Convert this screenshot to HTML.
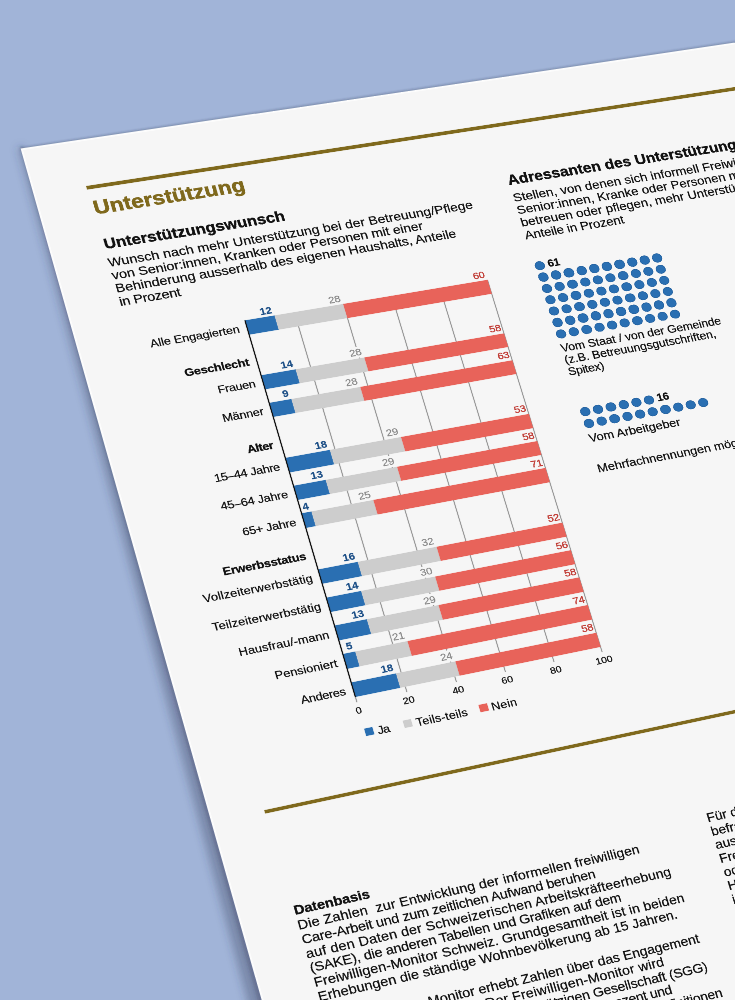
<!DOCTYPE html>
<html><head><meta charset="utf-8"><style>
html,body{margin:0;padding:0;width:735px;height:1000px;overflow:hidden;background:#a1b4d8;}
#page{position:absolute;left:0;top:0;width:1800px;height:2600px;background:#f6f6f6;transform-origin:0 0 0;transform:matrix3d(0.50915953,-0.0685344667,0,4.60428178e-05,0.119779161,0.421283696,0,-2.51008118e-05,0,0,1,0,21.2406089,148.904145,0,1);font-family:"Liberation Sans",sans-serif;box-shadow:inset 2.4px 2.4px 0 #fff;}
.t{position:absolute;white-space:nowrap;}
.r{position:absolute;}
.d{position:absolute;border-radius:50%;width:21.20px;height:21.20px;background:#2a6fb2;box-shadow:inset 0 0 0 1.20px #235f9c;}
</style></head><body>
<svg width="735" height="1000" style="position:absolute;left:0;top:0">
<defs><filter id="b1" x="-50%" y="-50%" width="200%" height="200%"><feGaussianBlur stdDeviation="4.5"/></filter>
<filter id="b2" x="-50%" y="-50%" width="200%" height="200%"><feGaussianBlur stdDeviation="1.6"/></filter>
<filter id="b3" x="-50%" y="-50%" width="200%" height="200%"><feGaussianBlur stdDeviation="0.8"/></filter></defs>
<polygon points="22.6,146.4 316.8,1185.8 298.6,1191.0 17.8,147.8" fill="rgba(50,60,85,0.36)" filter="url(#b1)"/>
<polygon points="22.6,146.4 316.8,1185.8 310.1,1187.7 19.7,147.3" fill="rgba(40,50,75,0.30)" filter="url(#b2)"/>
<polygon points="21.4,149.9 952.0,11.8 951.7,9.4 21.0,147.4" fill="rgba(40,50,75,0.35)" filter="url(#b3)"/>
</svg>
<div id="page">
<div class="r" style="left:102.80px;top:106.40px;width:1800.00px;height:7.60px;background:#7f691d;box-shadow:0 0 1.40px #7f691d;"></div>
<div class="r" style="left:102.00px;top:1521.60px;width:1800.00px;height:7.60px;background:#7f691d;box-shadow:0 0 1.40px #7f691d;"></div>
<div class="t" style="top:130.77px;font-size:44.40px;line-height:53.28px;color:#7f691d;font-weight:700;letter-spacing:0.238px;left:105.00px;-webkit-text-stroke:1.20px #7f691d;">Unterstützung</div>
<div class="t" style="top:222.96px;font-size:33.00px;line-height:39.60px;color:#111;font-weight:700;letter-spacing:-0.062px;left:105.00px;-webkit-text-stroke:0.80px #111;">Unterstützungswunsch</div>
<div class="t" style="top:268.69px;font-size:28.00px;line-height:33.60px;color:#111;letter-spacing:0.095px;left:103.00px;-webkit-text-stroke:0.50px #111;">Wunsch nach mehr Unterstützung bei der Betreuung/Pflege</div>
<div class="t" style="top:299.03px;font-size:28.00px;line-height:33.60px;color:#111;letter-spacing:-0.086px;left:103.00px;-webkit-text-stroke:0.50px #111;">von Senior:innen, Kranken oder Personen mit einer</div>
<div class="t" style="top:329.37px;font-size:28.00px;line-height:33.60px;color:#111;letter-spacing:-0.027px;left:103.00px;-webkit-text-stroke:0.50px #111;">Behinderung ausserhalb des eigenen Haushalts, Anteile</div>
<div class="t" style="top:359.71px;font-size:28.00px;line-height:33.60px;color:#111;letter-spacing:-0.507px;left:103.00px;-webkit-text-stroke:0.50px #111;">in Prozent</div>
<div class="r" style="left:431.00px;top:464.40px;width:2.00px;height:872.20px;background:#9a9a9a;box-shadow:0 0 1.40px #9a9a9a;"></div>
<div class="r" style="left:531.00px;top:464.40px;width:2.00px;height:872.20px;background:#9a9a9a;box-shadow:0 0 1.40px #9a9a9a;"></div>
<div class="r" style="left:631.00px;top:464.40px;width:2.00px;height:872.20px;background:#9a9a9a;box-shadow:0 0 1.40px #9a9a9a;"></div>
<div class="r" style="left:731.00px;top:464.40px;width:2.00px;height:872.20px;background:#9a9a9a;box-shadow:0 0 1.40px #9a9a9a;"></div>
<div class="r" style="left:831.00px;top:464.40px;width:2.00px;height:872.20px;background:#9a9a9a;box-shadow:0 0 1.40px #9a9a9a;"></div>
<div class="r" style="left:331.00px;top:464.40px;width:2.00px;height:872.20px;background:#9a9a9a;box-shadow:0 0 1.40px #9a9a9a;"></div>
<div class="t" style="top:466.00px;font-size:24.40px;line-height:29.28px;color:#111;letter-spacing:-0.066px;left:-883.47px;width:1200px;text-align:right;-webkit-text-stroke:0.50px #111;">Alle Engagierten</div>
<div class="r" style="left:332.00px;top:464.40px;width:60.00px;height:32.60px;background:#2a6fb2;box-shadow:0 0 1.40px #2a6fb2;"></div>
<div class="t" style="top:437.57px;font-size:22.00px;line-height:26.40px;color:#1b4e86;font-weight:700;left:-809.80px;width:1200px;text-align:right;-webkit-text-stroke:0.30px #1b4e86;"><span style="background:#f6f6f6;padding:0 0.6px">12</span></div>
<div class="r" style="left:392.00px;top:464.40px;width:140.00px;height:32.60px;background:#cdcdcd;box-shadow:0 0 1.40px #cdcdcd;"></div>
<div class="t" style="top:437.57px;font-size:22.00px;line-height:26.40px;color:#888;left:-669.80px;width:1200px;text-align:right;-webkit-text-stroke:0.40px #888;"><span style="background:#f6f6f6;padding:0 0.6px">28</span></div>
<div class="r" style="left:532.00px;top:464.40px;width:300.00px;height:32.60px;background:#e8635a;box-shadow:0 0 1.40px #e8635a;"></div>
<div class="t" style="top:437.57px;font-size:22.00px;line-height:26.40px;color:#c03b34;left:-369.80px;width:1200px;text-align:right;-webkit-text-stroke:0.70px #c03b34;"><span style="background:#f6f6f6;padding:0 0.6px">60</span></div>
<div class="t" style="top:543.44px;font-size:24.40px;line-height:29.28px;color:#111;font-weight:700;letter-spacing:-0.255px;left:-883.65px;width:1200px;text-align:right;-webkit-text-stroke:0.60px #111;">Geschlecht</div>
<div class="t" style="top:593.44px;font-size:24.40px;line-height:29.28px;color:#111;letter-spacing:-0.386px;left:-883.79px;width:1200px;text-align:right;-webkit-text-stroke:0.50px #111;">Frauen</div>
<div class="r" style="left:332.00px;top:591.84px;width:70.00px;height:32.60px;background:#2a6fb2;box-shadow:0 0 1.40px #2a6fb2;"></div>
<div class="t" style="top:565.01px;font-size:22.00px;line-height:26.40px;color:#1b4e86;font-weight:700;left:-799.80px;width:1200px;text-align:right;-webkit-text-stroke:0.30px #1b4e86;"><span style="background:#f6f6f6;padding:0 0.6px">14</span></div>
<div class="r" style="left:402.00px;top:591.84px;width:140.00px;height:32.60px;background:#cdcdcd;box-shadow:0 0 1.40px #cdcdcd;"></div>
<div class="t" style="top:565.01px;font-size:22.00px;line-height:26.40px;color:#888;left:-659.80px;width:1200px;text-align:right;-webkit-text-stroke:0.40px #888;"><span style="background:#f6f6f6;padding:0 0.6px">28</span></div>
<div class="r" style="left:542.00px;top:591.84px;width:290.00px;height:32.60px;background:#e8635a;box-shadow:0 0 1.40px #e8635a;"></div>
<div class="t" style="top:565.01px;font-size:22.00px;line-height:26.40px;color:#c03b34;left:-369.80px;width:1200px;text-align:right;-webkit-text-stroke:0.70px #c03b34;"><span style="background:#f6f6f6;padding:0 0.6px">58</span></div>
<div class="t" style="top:657.16px;font-size:24.40px;line-height:29.28px;color:#111;letter-spacing:-0.156px;left:-883.56px;width:1200px;text-align:right;-webkit-text-stroke:0.50px #111;">Männer</div>
<div class="r" style="left:332.00px;top:655.56px;width:45.00px;height:32.60px;background:#2a6fb2;box-shadow:0 0 1.40px #2a6fb2;"></div>
<div class="t" style="top:628.73px;font-size:22.00px;line-height:26.40px;color:#1b4e86;font-weight:700;left:-824.80px;width:1200px;text-align:right;-webkit-text-stroke:0.30px #1b4e86;"><span style="background:#f6f6f6;padding:0 0.6px">9</span></div>
<div class="r" style="left:377.00px;top:655.56px;width:140.00px;height:32.60px;background:#cdcdcd;box-shadow:0 0 1.40px #cdcdcd;"></div>
<div class="t" style="top:628.73px;font-size:22.00px;line-height:26.40px;color:#888;left:-684.80px;width:1200px;text-align:right;-webkit-text-stroke:0.40px #888;"><span style="background:#f6f6f6;padding:0 0.6px">28</span></div>
<div class="r" style="left:517.00px;top:655.56px;width:315.00px;height:32.60px;background:#e8635a;box-shadow:0 0 1.40px #e8635a;"></div>
<div class="t" style="top:628.73px;font-size:22.00px;line-height:26.40px;color:#c03b34;left:-369.80px;width:1200px;text-align:right;-webkit-text-stroke:0.70px #c03b34;"><span style="background:#f6f6f6;padding:0 0.6px">63</span></div>
<div class="t" style="top:734.60px;font-size:24.40px;line-height:29.28px;color:#111;font-weight:700;letter-spacing:-0.798px;left:-884.20px;width:1200px;text-align:right;-webkit-text-stroke:0.60px #111;">Alter</div>
<div class="t" style="top:784.60px;font-size:24.40px;line-height:29.28px;color:#111;letter-spacing:-0.515px;left:-883.92px;width:1200px;text-align:right;-webkit-text-stroke:0.50px #111;">15–44 Jahre</div>
<div class="r" style="left:332.00px;top:783.00px;width:90.00px;height:32.60px;background:#2a6fb2;box-shadow:0 0 1.40px #2a6fb2;"></div>
<div class="t" style="top:756.17px;font-size:22.00px;line-height:26.40px;color:#1b4e86;font-weight:700;left:-779.80px;width:1200px;text-align:right;-webkit-text-stroke:0.30px #1b4e86;"><span style="background:#f6f6f6;padding:0 0.6px">18</span></div>
<div class="r" style="left:422.00px;top:783.00px;width:145.00px;height:32.60px;background:#cdcdcd;box-shadow:0 0 1.40px #cdcdcd;"></div>
<div class="t" style="top:756.17px;font-size:22.00px;line-height:26.40px;color:#888;left:-634.80px;width:1200px;text-align:right;-webkit-text-stroke:0.40px #888;"><span style="background:#f6f6f6;padding:0 0.6px">29</span></div>
<div class="r" style="left:567.00px;top:783.00px;width:265.00px;height:32.60px;background:#e8635a;box-shadow:0 0 1.40px #e8635a;"></div>
<div class="t" style="top:756.17px;font-size:22.00px;line-height:26.40px;color:#c03b34;left:-369.80px;width:1200px;text-align:right;-webkit-text-stroke:0.70px #c03b34;"><span style="background:#f6f6f6;padding:0 0.6px">53</span></div>
<div class="t" style="top:848.32px;font-size:24.40px;line-height:29.28px;color:#111;letter-spacing:-0.188px;left:-883.59px;width:1200px;text-align:right;-webkit-text-stroke:0.50px #111;">45–64 Jahre</div>
<div class="r" style="left:332.00px;top:846.72px;width:65.00px;height:32.60px;background:#2a6fb2;box-shadow:0 0 1.40px #2a6fb2;"></div>
<div class="t" style="top:819.89px;font-size:22.00px;line-height:26.40px;color:#1b4e86;font-weight:700;left:-804.80px;width:1200px;text-align:right;-webkit-text-stroke:0.30px #1b4e86;"><span style="background:#f6f6f6;padding:0 0.6px">13</span></div>
<div class="r" style="left:397.00px;top:846.72px;width:145.00px;height:32.60px;background:#cdcdcd;box-shadow:0 0 1.40px #cdcdcd;"></div>
<div class="t" style="top:819.89px;font-size:22.00px;line-height:26.40px;color:#888;left:-659.80px;width:1200px;text-align:right;-webkit-text-stroke:0.40px #888;"><span style="background:#f6f6f6;padding:0 0.6px">29</span></div>
<div class="r" style="left:542.00px;top:846.72px;width:290.00px;height:32.60px;background:#e8635a;box-shadow:0 0 1.40px #e8635a;"></div>
<div class="t" style="top:819.89px;font-size:22.00px;line-height:26.40px;color:#c03b34;left:-369.80px;width:1200px;text-align:right;-webkit-text-stroke:0.70px #c03b34;"><span style="background:#f6f6f6;padding:0 0.6px">58</span></div>
<div class="t" style="top:912.04px;font-size:24.40px;line-height:29.28px;color:#111;letter-spacing:-0.312px;left:-883.71px;width:1200px;text-align:right;-webkit-text-stroke:0.50px #111;">65+ Jahre</div>
<div class="r" style="left:332.00px;top:910.44px;width:20.00px;height:32.60px;background:#2a6fb2;box-shadow:0 0 1.40px #2a6fb2;"></div>
<div class="t" style="top:883.61px;font-size:22.00px;line-height:26.40px;color:#1b4e86;font-weight:700;left:-849.80px;width:1200px;text-align:right;-webkit-text-stroke:0.30px #1b4e86;"><span style="background:#f6f6f6;padding:0 0.6px">4</span></div>
<div class="r" style="left:352.00px;top:910.44px;width:125.00px;height:32.60px;background:#cdcdcd;box-shadow:0 0 1.40px #cdcdcd;"></div>
<div class="t" style="top:883.61px;font-size:22.00px;line-height:26.40px;color:#888;left:-724.80px;width:1200px;text-align:right;-webkit-text-stroke:0.40px #888;"><span style="background:#f6f6f6;padding:0 0.6px">25</span></div>
<div class="r" style="left:477.00px;top:910.44px;width:355.00px;height:32.60px;background:#e8635a;box-shadow:0 0 1.40px #e8635a;"></div>
<div class="t" style="top:883.61px;font-size:22.00px;line-height:26.40px;color:#c03b34;left:-369.80px;width:1200px;text-align:right;-webkit-text-stroke:0.70px #c03b34;"><span style="background:#f6f6f6;padding:0 0.6px">71</span></div>
<div class="t" style="top:989.48px;font-size:24.40px;line-height:29.28px;color:#111;font-weight:700;letter-spacing:-0.274px;left:-883.67px;width:1200px;text-align:right;-webkit-text-stroke:0.60px #111;">Erwerbsstatus</div>
<div class="t" style="top:1039.48px;font-size:24.40px;line-height:29.28px;color:#111;letter-spacing:0.319px;left:-883.08px;width:1200px;text-align:right;-webkit-text-stroke:0.50px #111;">Vollzeiterwerbstätig</div>
<div class="r" style="left:332.00px;top:1037.88px;width:80.00px;height:32.60px;background:#2a6fb2;box-shadow:0 0 1.40px #2a6fb2;"></div>
<div class="t" style="top:1011.05px;font-size:22.00px;line-height:26.40px;color:#1b4e86;font-weight:700;left:-789.80px;width:1200px;text-align:right;-webkit-text-stroke:0.30px #1b4e86;"><span style="background:#f6f6f6;padding:0 0.6px">16</span></div>
<div class="r" style="left:412.00px;top:1037.88px;width:160.00px;height:32.60px;background:#cdcdcd;box-shadow:0 0 1.40px #cdcdcd;"></div>
<div class="t" style="top:1011.05px;font-size:22.00px;line-height:26.40px;color:#888;left:-629.80px;width:1200px;text-align:right;-webkit-text-stroke:0.40px #888;"><span style="background:#f6f6f6;padding:0 0.6px">32</span></div>
<div class="r" style="left:572.00px;top:1037.88px;width:260.00px;height:32.60px;background:#e8635a;box-shadow:0 0 1.40px #e8635a;"></div>
<div class="t" style="top:1011.05px;font-size:22.00px;line-height:26.40px;color:#c03b34;left:-369.80px;width:1200px;text-align:right;-webkit-text-stroke:0.70px #c03b34;"><span style="background:#f6f6f6;padding:0 0.6px">52</span></div>
<div class="t" style="top:1103.20px;font-size:24.40px;line-height:29.28px;color:#111;letter-spacing:0.356px;left:-883.04px;width:1200px;text-align:right;-webkit-text-stroke:0.50px #111;">Teilzeiterwerbstätig</div>
<div class="r" style="left:332.00px;top:1101.60px;width:70.00px;height:32.60px;background:#2a6fb2;box-shadow:0 0 1.40px #2a6fb2;"></div>
<div class="t" style="top:1074.77px;font-size:22.00px;line-height:26.40px;color:#1b4e86;font-weight:700;left:-799.80px;width:1200px;text-align:right;-webkit-text-stroke:0.30px #1b4e86;"><span style="background:#f6f6f6;padding:0 0.6px">14</span></div>
<div class="r" style="left:402.00px;top:1101.60px;width:150.00px;height:32.60px;background:#cdcdcd;box-shadow:0 0 1.40px #cdcdcd;"></div>
<div class="t" style="top:1074.77px;font-size:22.00px;line-height:26.40px;color:#888;left:-649.80px;width:1200px;text-align:right;-webkit-text-stroke:0.40px #888;"><span style="background:#f6f6f6;padding:0 0.6px">30</span></div>
<div class="r" style="left:552.00px;top:1101.60px;width:280.00px;height:32.60px;background:#e8635a;box-shadow:0 0 1.40px #e8635a;"></div>
<div class="t" style="top:1074.77px;font-size:22.00px;line-height:26.40px;color:#c03b34;left:-369.80px;width:1200px;text-align:right;-webkit-text-stroke:0.70px #c03b34;"><span style="background:#f6f6f6;padding:0 0.6px">56</span></div>
<div class="t" style="top:1166.92px;font-size:24.40px;line-height:29.28px;color:#111;letter-spacing:0.261px;left:-883.14px;width:1200px;text-align:right;-webkit-text-stroke:0.50px #111;">Hausfrau/-mann</div>
<div class="r" style="left:332.00px;top:1165.32px;width:65.00px;height:32.60px;background:#2a6fb2;box-shadow:0 0 1.40px #2a6fb2;"></div>
<div class="t" style="top:1138.49px;font-size:22.00px;line-height:26.40px;color:#1b4e86;font-weight:700;left:-804.80px;width:1200px;text-align:right;-webkit-text-stroke:0.30px #1b4e86;"><span style="background:#f6f6f6;padding:0 0.6px">13</span></div>
<div class="r" style="left:397.00px;top:1165.32px;width:145.00px;height:32.60px;background:#cdcdcd;box-shadow:0 0 1.40px #cdcdcd;"></div>
<div class="t" style="top:1138.49px;font-size:22.00px;line-height:26.40px;color:#888;left:-659.80px;width:1200px;text-align:right;-webkit-text-stroke:0.40px #888;"><span style="background:#f6f6f6;padding:0 0.6px">29</span></div>
<div class="r" style="left:542.00px;top:1165.32px;width:290.00px;height:32.60px;background:#e8635a;box-shadow:0 0 1.40px #e8635a;"></div>
<div class="t" style="top:1138.49px;font-size:22.00px;line-height:26.40px;color:#c03b34;left:-369.80px;width:1200px;text-align:right;-webkit-text-stroke:0.70px #c03b34;"><span style="background:#f6f6f6;padding:0 0.6px">58</span></div>
<div class="t" style="top:1230.64px;font-size:24.40px;line-height:29.28px;color:#111;letter-spacing:0.157px;left:-883.24px;width:1200px;text-align:right;-webkit-text-stroke:0.50px #111;">Pensioniert</div>
<div class="r" style="left:332.00px;top:1229.04px;width:25.00px;height:32.60px;background:#2a6fb2;box-shadow:0 0 1.40px #2a6fb2;"></div>
<div class="t" style="top:1202.21px;font-size:22.00px;line-height:26.40px;color:#1b4e86;font-weight:700;left:-844.80px;width:1200px;text-align:right;-webkit-text-stroke:0.30px #1b4e86;"><span style="background:#f6f6f6;padding:0 0.6px">5</span></div>
<div class="r" style="left:357.00px;top:1229.04px;width:105.00px;height:32.60px;background:#cdcdcd;box-shadow:0 0 1.40px #cdcdcd;"></div>
<div class="t" style="top:1202.21px;font-size:22.00px;line-height:26.40px;color:#888;left:-739.80px;width:1200px;text-align:right;-webkit-text-stroke:0.40px #888;"><span style="background:#f6f6f6;padding:0 0.6px">21</span></div>
<div class="r" style="left:462.00px;top:1229.04px;width:370.00px;height:32.60px;background:#e8635a;box-shadow:0 0 1.40px #e8635a;"></div>
<div class="t" style="top:1202.21px;font-size:22.00px;line-height:26.40px;color:#c03b34;left:-369.80px;width:1200px;text-align:right;-webkit-text-stroke:0.70px #c03b34;"><span style="background:#f6f6f6;padding:0 0.6px">74</span></div>
<div class="t" style="top:1294.36px;font-size:24.40px;line-height:29.28px;color:#111;letter-spacing:-0.383px;left:-883.78px;width:1200px;text-align:right;-webkit-text-stroke:0.50px #111;">Anderes</div>
<div class="r" style="left:332.00px;top:1292.76px;width:90.00px;height:32.60px;background:#2a6fb2;box-shadow:0 0 1.40px #2a6fb2;"></div>
<div class="t" style="top:1265.93px;font-size:22.00px;line-height:26.40px;color:#1b4e86;font-weight:700;left:-779.80px;width:1200px;text-align:right;-webkit-text-stroke:0.30px #1b4e86;"><span style="background:#f6f6f6;padding:0 0.6px">18</span></div>
<div class="r" style="left:422.00px;top:1292.76px;width:120.00px;height:32.60px;background:#cdcdcd;box-shadow:0 0 1.40px #cdcdcd;"></div>
<div class="t" style="top:1265.93px;font-size:22.00px;line-height:26.40px;color:#888;left:-659.80px;width:1200px;text-align:right;-webkit-text-stroke:0.40px #888;"><span style="background:#f6f6f6;padding:0 0.6px">24</span></div>
<div class="r" style="left:542.00px;top:1292.76px;width:290.00px;height:32.60px;background:#e8635a;box-shadow:0 0 1.40px #e8635a;"></div>
<div class="t" style="top:1265.93px;font-size:22.00px;line-height:26.40px;color:#c03b34;left:-369.80px;width:1200px;text-align:right;-webkit-text-stroke:0.70px #c03b34;"><span style="background:#f6f6f6;padding:0 0.6px">58</span></div>
<div class="r" style="left:330.60px;top:464.40px;width:2.80px;height:860.96px;background:#111;box-shadow:0 0 1.40px #111;"></div>
<div class="t" style="top:1342.12px;font-size:21.00px;line-height:25.20px;color:#111;left:-269.20px;width:1200px;text-align:center;-webkit-text-stroke:0.50px #111;">0</div>
<div class="t" style="top:1342.12px;font-size:21.00px;line-height:25.20px;color:#111;left:-169.20px;width:1200px;text-align:center;-webkit-text-stroke:0.50px #111;">20</div>
<div class="t" style="top:1342.12px;font-size:21.00px;line-height:25.20px;color:#111;left:-69.20px;width:1200px;text-align:center;-webkit-text-stroke:0.50px #111;">40</div>
<div class="t" style="top:1342.12px;font-size:21.00px;line-height:25.20px;color:#111;left:30.80px;width:1200px;text-align:center;-webkit-text-stroke:0.50px #111;">60</div>
<div class="t" style="top:1342.12px;font-size:21.00px;line-height:25.20px;color:#111;left:130.80px;width:1200px;text-align:center;-webkit-text-stroke:0.50px #111;">80</div>
<div class="t" style="top:1342.12px;font-size:21.00px;line-height:25.20px;color:#111;left:230.80px;width:1200px;text-align:center;-webkit-text-stroke:0.50px #111;">100</div>
<div class="r" style="left:331.00px;top:1396.00px;width:16.40px;height:16.40px;background:#2a6fb2;box-shadow:0 0 1.40px #2a6fb2;"></div>
<div class="t" style="top:1390.90px;font-size:24.40px;line-height:29.28px;color:#111;letter-spacing:-1.285px;left:355.00px;-webkit-text-stroke:0.50px #111;">Ja</div>
<div class="r" style="left:408.00px;top:1396.00px;width:16.40px;height:16.40px;background:#cdcdcd;box-shadow:0 0 1.40px #cdcdcd;"></div>
<div class="t" style="top:1390.90px;font-size:24.40px;line-height:29.28px;color:#111;letter-spacing:0.333px;left:432.20px;-webkit-text-stroke:0.50px #111;">Teils-teils</div>
<div class="r" style="left:561.20px;top:1396.00px;width:16.40px;height:16.40px;background:#e8635a;box-shadow:0 0 1.40px #e8635a;"></div>
<div class="t" style="top:1390.90px;font-size:24.40px;line-height:29.28px;color:#111;letter-spacing:0.454px;left:584.80px;-webkit-text-stroke:0.50px #111;">Nein</div>
<div class="t" style="top:223.36px;font-size:33.00px;line-height:39.60px;color:#111;font-weight:700;left:935.00px;-webkit-text-stroke:0.80px #111;">Adressanten des Unterstützungswunsches</div>
<div class="t" style="top:268.69px;font-size:28.00px;line-height:33.60px;color:#111;left:935.00px;-webkit-text-stroke:0.50px #111;">Stellen, von denen sich informell Freiwillige, die</div>
<div class="t" style="top:299.03px;font-size:28.00px;line-height:33.60px;color:#111;left:935.00px;-webkit-text-stroke:0.50px #111;">Senior:innen, Kranke oder Personen mit Behinderung</div>
<div class="t" style="top:329.37px;font-size:28.00px;line-height:33.60px;color:#111;left:935.00px;-webkit-text-stroke:0.50px #111;">betreuen oder pflegen, mehr Unterstützung wünschen,</div>
<div class="t" style="top:359.71px;font-size:28.00px;line-height:33.60px;color:#111;letter-spacing:-0.382px;left:935.00px;-webkit-text-stroke:0.50px #111;">Anteile in Prozent</div>
<div class="d" style="left:935.90px;top:441.20px;"></div>
<div class="d" style="left:935.90px;top:468.44px;"></div>
<div class="d" style="left:963.14px;top:468.44px;"></div>
<div class="d" style="left:990.38px;top:468.44px;"></div>
<div class="d" style="left:1017.62px;top:468.44px;"></div>
<div class="d" style="left:1044.86px;top:468.44px;"></div>
<div class="d" style="left:1072.10px;top:468.44px;"></div>
<div class="d" style="left:1099.34px;top:468.44px;"></div>
<div class="d" style="left:1126.58px;top:468.44px;"></div>
<div class="d" style="left:1153.82px;top:468.44px;"></div>
<div class="d" style="left:1181.06px;top:468.44px;"></div>
<div class="d" style="left:935.90px;top:495.68px;"></div>
<div class="d" style="left:963.14px;top:495.68px;"></div>
<div class="d" style="left:990.38px;top:495.68px;"></div>
<div class="d" style="left:1017.62px;top:495.68px;"></div>
<div class="d" style="left:1044.86px;top:495.68px;"></div>
<div class="d" style="left:1072.10px;top:495.68px;"></div>
<div class="d" style="left:1099.34px;top:495.68px;"></div>
<div class="d" style="left:1126.58px;top:495.68px;"></div>
<div class="d" style="left:1153.82px;top:495.68px;"></div>
<div class="d" style="left:1181.06px;top:495.68px;"></div>
<div class="d" style="left:935.90px;top:522.92px;"></div>
<div class="d" style="left:963.14px;top:522.92px;"></div>
<div class="d" style="left:990.38px;top:522.92px;"></div>
<div class="d" style="left:1017.62px;top:522.92px;"></div>
<div class="d" style="left:1044.86px;top:522.92px;"></div>
<div class="d" style="left:1072.10px;top:522.92px;"></div>
<div class="d" style="left:1099.34px;top:522.92px;"></div>
<div class="d" style="left:1126.58px;top:522.92px;"></div>
<div class="d" style="left:1153.82px;top:522.92px;"></div>
<div class="d" style="left:1181.06px;top:522.92px;"></div>
<div class="d" style="left:935.90px;top:550.16px;"></div>
<div class="d" style="left:963.14px;top:550.16px;"></div>
<div class="d" style="left:990.38px;top:550.16px;"></div>
<div class="d" style="left:1017.62px;top:550.16px;"></div>
<div class="d" style="left:1044.86px;top:550.16px;"></div>
<div class="d" style="left:1072.10px;top:550.16px;"></div>
<div class="d" style="left:1099.34px;top:550.16px;"></div>
<div class="d" style="left:1126.58px;top:550.16px;"></div>
<div class="d" style="left:1153.82px;top:550.16px;"></div>
<div class="d" style="left:1181.06px;top:550.16px;"></div>
<div class="d" style="left:935.90px;top:577.40px;"></div>
<div class="d" style="left:963.14px;top:577.40px;"></div>
<div class="d" style="left:990.38px;top:577.40px;"></div>
<div class="d" style="left:1017.62px;top:577.40px;"></div>
<div class="d" style="left:1044.86px;top:577.40px;"></div>
<div class="d" style="left:1072.10px;top:577.40px;"></div>
<div class="d" style="left:1099.34px;top:577.40px;"></div>
<div class="d" style="left:1126.58px;top:577.40px;"></div>
<div class="d" style="left:1153.82px;top:577.40px;"></div>
<div class="d" style="left:1181.06px;top:577.40px;"></div>
<div class="d" style="left:935.90px;top:604.64px;"></div>
<div class="d" style="left:963.14px;top:604.64px;"></div>
<div class="d" style="left:990.38px;top:604.64px;"></div>
<div class="d" style="left:1017.62px;top:604.64px;"></div>
<div class="d" style="left:1044.86px;top:604.64px;"></div>
<div class="d" style="left:1072.10px;top:604.64px;"></div>
<div class="d" style="left:1099.34px;top:604.64px;"></div>
<div class="d" style="left:1126.58px;top:604.64px;"></div>
<div class="d" style="left:1153.82px;top:604.64px;"></div>
<div class="d" style="left:1181.06px;top:604.64px;"></div>
<div class="t" style="top:437.23px;font-size:23.00px;line-height:27.60px;color:#111;font-weight:700;left:963.74px;-webkit-text-stroke:0.60px #111;">61</div>
<div class="t" style="top:633.35px;font-size:25.40px;line-height:30.48px;color:#111;letter-spacing:-0.091px;left:937.00px;-webkit-text-stroke:0.50px #111;">Vom Staat / von der Gemeinde</div>
<div class="t" style="top:661.15px;font-size:25.40px;line-height:30.48px;color:#111;letter-spacing:-0.067px;left:937.00px;-webkit-text-stroke:0.50px #111;">(z.B. Betreuungsgutschriften,</div>
<div class="t" style="top:688.95px;font-size:25.40px;line-height:30.48px;color:#111;letter-spacing:-0.465px;left:937.00px;-webkit-text-stroke:0.50px #111;">Spitex)</div>
<div class="d" style="left:935.90px;top:790.00px;"></div>
<div class="d" style="left:963.14px;top:790.00px;"></div>
<div class="d" style="left:990.38px;top:790.00px;"></div>
<div class="d" style="left:1017.62px;top:790.00px;"></div>
<div class="d" style="left:1044.86px;top:790.00px;"></div>
<div class="d" style="left:1072.10px;top:790.00px;"></div>
<div class="d" style="left:935.90px;top:818.00px;"></div>
<div class="d" style="left:963.14px;top:818.00px;"></div>
<div class="d" style="left:990.38px;top:818.00px;"></div>
<div class="d" style="left:1017.62px;top:818.00px;"></div>
<div class="d" style="left:1044.86px;top:818.00px;"></div>
<div class="d" style="left:1072.10px;top:818.00px;"></div>
<div class="d" style="left:1099.34px;top:818.00px;"></div>
<div class="d" style="left:1126.58px;top:818.00px;"></div>
<div class="d" style="left:1153.82px;top:818.00px;"></div>
<div class="d" style="left:1181.06px;top:818.00px;"></div>
<div class="t" style="top:786.03px;font-size:23.00px;line-height:27.60px;color:#111;font-weight:700;left:1099.94px;-webkit-text-stroke:0.60px #111;">16</div>
<div class="t" style="top:846.61px;font-size:26.40px;line-height:31.68px;color:#111;letter-spacing:-0.027px;left:937.00px;-webkit-text-stroke:0.50px #111;">Vom Arbeitgeber</div>
<div class="t" style="top:917.61px;font-size:26.40px;line-height:31.68px;color:#111;left:935.00px;-webkit-text-stroke:0.50px #111;">Mehrfachnennungen möglich</div>
<div class="t" style="top:1724.07px;font-size:27.60px;line-height:33.12px;color:#111;font-weight:700;left:103.80px;-webkit-text-stroke:0.70px #111;">Datenbasis</div>
<div class="t" style="top:1756.27px;font-size:27.60px;line-height:33.12px;color:#111;letter-spacing:0.263px;left:102.80px;-webkit-text-stroke:0.50px #111;">Die Zahlen  zur Entwicklung der informellen freiwilligen</div>
<div class="t" style="top:1786.97px;font-size:27.60px;line-height:33.12px;color:#111;letter-spacing:-0.350px;left:102.80px;-webkit-text-stroke:0.50px #111;">Care-Arbeit und zum zeitlichen Aufwand beruhen</div>
<div class="t" style="top:1817.67px;font-size:27.60px;line-height:33.12px;color:#111;letter-spacing:0.326px;left:102.80px;-webkit-text-stroke:0.50px #111;">auf den Daten der Schweizerischen Arbeitskräfteerhebung</div>
<div class="t" style="top:1848.37px;font-size:27.60px;line-height:33.12px;color:#111;letter-spacing:-0.339px;left:102.80px;-webkit-text-stroke:0.50px #111;">(SAKE), die anderen Tabellen und Grafiken auf dem</div>
<div class="t" style="top:1879.07px;font-size:27.60px;line-height:33.12px;color:#111;letter-spacing:0.164px;left:102.80px;-webkit-text-stroke:0.50px #111;">Freiwilligen-Monitor Schweiz. Grundgesamtheit ist in beiden</div>
<div class="t" style="top:1909.77px;font-size:27.60px;line-height:33.12px;color:#111;letter-spacing:0.097px;left:102.80px;-webkit-text-stroke:0.50px #111;">Erhebungen die ständige Wohnbevölkerung ab 15 Jahren.</div>
<div class="t" style="top:1971.17px;font-size:27.60px;line-height:33.12px;color:#111;letter-spacing:-0.046px;left:102.80px;-webkit-text-stroke:0.50px #111;">Der Freiwilligen-Monitor erhebt Zahlen über das Engagement</div>
<div class="t" style="top:2001.87px;font-size:27.60px;line-height:33.12px;color:#111;letter-spacing:0.381px;left:102.80px;-webkit-text-stroke:0.50px #111;">ausserhalb der Familie. Der Freiwilligen-Monitor wird</div>
<div class="t" style="top:2032.57px;font-size:27.60px;line-height:33.12px;color:#111;letter-spacing:-0.309px;left:102.80px;-webkit-text-stroke:0.50px #111;">von der Schweizerischen Gemeinnützigen Gesellschaft (SGG)</div>
<div class="t" style="top:2063.27px;font-size:27.60px;line-height:33.12px;color:#111;letter-spacing:-0.645px;left:102.80px;-webkit-text-stroke:0.50px #111;">herausgegeben. Die Werte sind gerundet, in Prozent und</div>
<div class="t" style="top:2093.97px;font-size:27.60px;line-height:33.12px;color:#111;letter-spacing:-0.416px;left:102.80px;-webkit-text-stroke:0.50px #111;">Summen können von 100 abweichen. Es gelten die Definitionen</div>
<div class="t" style="top:1722.87px;font-size:27.60px;line-height:33.12px;color:#111;left:936.60px;-webkit-text-stroke:0.50px #111;">Für die Erhebungen wurden</div>
<div class="t" style="top:1753.57px;font-size:27.60px;line-height:33.12px;color:#111;left:936.60px;-webkit-text-stroke:0.50px #111;">befragt, die in Privathaushalten</div>
<div class="t" style="top:1784.27px;font-size:27.60px;line-height:33.12px;color:#111;left:936.60px;-webkit-text-stroke:0.50px #111;">ausserhalb des eigenen Haushalts</div>
<div class="t" style="top:1814.97px;font-size:27.60px;line-height:33.12px;color:#111;left:936.60px;-webkit-text-stroke:0.50px #111;">Freiwilligenarbeit leisten</div>
<div class="t" style="top:1845.67px;font-size:27.60px;line-height:33.12px;color:#111;left:936.60px;-webkit-text-stroke:0.50px #111;">oder Angehörige betreuen.</div>
<div class="t" style="top:1876.37px;font-size:27.60px;line-height:33.12px;color:#111;left:936.60px;-webkit-text-stroke:0.50px #111;">Haushalte mit Kindern</div>
<div class="t" style="top:1907.07px;font-size:27.60px;line-height:33.12px;color:#111;left:936.60px;-webkit-text-stroke:0.50px #111;">in der Schweiz</div>
</div>
<svg width="735" height="1000" style="position:absolute;left:0;top:0"><polyline points="315.30,1186.24 21.68,149.19 951.96,11.23" fill="none" stroke="#fcfcfc" stroke-width="1.7" stroke-linejoin="miter"/></svg>
</body></html>
